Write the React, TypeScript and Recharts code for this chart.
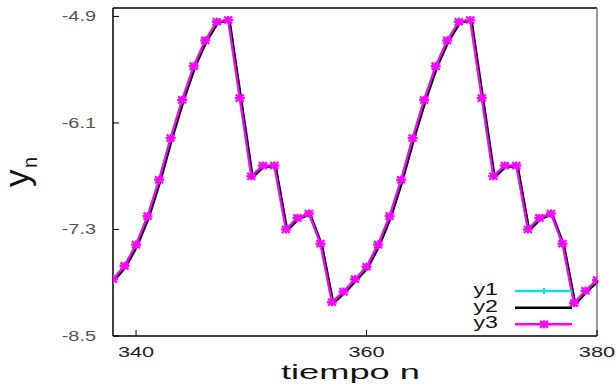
import React from 'react';
import { LineChart, Line, XAxis, YAxis, ReferenceLine, Legend } from 'recharts';

const nValues = [
  338, 339, 340, 341, 342, 343, 344, 345, 346, 347, 348, 349, 350, 351, 352,
  353, 354, 355, 356, 357, 358, 359, 360, 361, 362, 363, 364, 365, 366, 367,
  368, 369, 370, 371, 372, 373, 374, 375, 376, 377, 378, 379, 380,
];

const y1Values = [
  -7.86, -7.71, -7.47, -7.15, -6.74, -6.27, -5.84, -5.46, -5.17, -4.96, -4.94,
  -5.82, -6.7, -6.58, -6.58, -7.3, -7.17, -7.12, -7.46, -8.12, -8.0, -7.86,
  -7.72, -7.47, -7.15, -6.74, -6.27, -5.84, -5.46, -5.17, -4.96, -4.94, -5.82,
  -6.7, -6.58, -6.58, -7.3, -7.17, -7.12, -7.46, -8.13, -7.99, -7.87,
];

const y2Values = [
  -7.86, -7.71, -7.47, -7.15, -6.74, -6.27, -5.84, -5.46, -5.17, -4.96, -4.94,
  -5.82, -6.7, -6.58, -6.58, -7.3, -7.17, -7.12, -7.46, -8.12, -8.0, -7.86,
  -7.72, -7.47, -7.15, -6.74, -6.27, -5.84, -5.46, -5.17, -4.96, -4.94, -5.82,
  -6.7, -6.58, -6.58, -7.3, -7.17, -7.12, -7.46, -8.13, -7.99, -7.87,
];

const y3Values = [
  -7.86, -7.71, -7.47, -7.15, -6.74, -6.27, -5.84, -5.46, -5.17, -4.96, -4.94,
  -5.82, -6.7, -6.58, -6.58, -7.3, -7.17, -7.12, -7.46, -8.12, -8.0, -7.86,
  -7.72, -7.47, -7.15, -6.74, -6.27, -5.84, -5.46, -5.17, -4.96, -4.94, -5.82,
  -6.7, -6.58, -6.58, -7.3, -7.17, -7.12, -7.46, -8.13, -7.99, -7.87,
];

const xTicks = [340, 360, 380];
const yTicks = [-8.5, -7.3, -6.1, -4.9];
const xDomain = [338, 380];
const yDomain = [-8.5, -4.805];
const seriesNames = ['y1', 'y2', 'y3'];
const seriesColors = ['#00e5ee', '#000000', '#ff00ff'];
const xLabel = 'tiempo n';

const data = nValues.map((n, i) => ({
  n,
  y1: y1Values[i],
  y2: y2Values[i],
  y3: y3Values[i],
}));

const FONT = '"Liberation Sans", Arial, sans-serif';

const StarDot = (props: any) => {
  const { cx, cy } = props;
  if (cx == null || cy == null) return <g key={`s-${props.index}`} />;
  return (
    <g key={`s-${props.index}`} stroke="#ff00ff" strokeWidth={2.2}>
      <line x1={cx - 5} x2={cx + 5} y1={cy} y2={cy} />
      <line x1={cx} x2={cx} y1={cy - 4} y2={cy + 4} />
      <line x1={cx - 4} x2={cx + 4} y1={cy - 3.5} y2={cy + 3.5} />
      <line x1={cx - 4} x2={cx + 4} y1={cy + 3.5} y2={cy - 3.5} />
    </g>
  );
};

const PlusDot = (props: any) => {
  const { cx, cy } = props;
  if (cx == null || cy == null) return <g key={`p-${props.index}`} />;
  return (
    <g key={`p-${props.index}`} stroke="#00e5ee" strokeWidth={2}>
      <line x1={cx - 4} x2={cx + 4} y1={cy} y2={cy} />
      <line x1={cx} x2={cx} y1={cy - 4} y2={cy + 4} />
    </g>
  );
};

const YTick = (props: any) => {
  const { x, y, payload } = props;
  return (
    <g>
      <line x1={x + 17} x2={x + 23} y1={y} y2={y} stroke="#000" strokeWidth={1} />
      <text
        transform={`translate(${x} ${y + 5}) scale(1.42 1)`}
        textAnchor="end"
        fontSize={14}
        fontFamily={FONT}
        fill="#555"
      >
        {Number(payload.value).toFixed(1)}
      </text>
    </g>
  );
};

const XTick = (props: any) => {
  const { x, y, payload } = props;
  return (
    <g>
      <line x1={x} x2={x} y1={y - 9} y2={y - 15} stroke="#000" strokeWidth={1} />
      <text
        transform={`translate(${x} ${y + 11.5}) scale(1.45 1)`}
        textAnchor="middle"
        fontSize={15}
        fontFamily={FONT}
        fill="#222"
      >
        {payload.value}
      </text>
    </g>
  );
};

const XLabel = () => (
  <text
    x={281}
    y={379}
    fontSize={21}
    fontFamily={FONT}
    fill="#111"
    textLength={139}
    lengthAdjust="spacingAndGlyphs"
  >
    {xLabel}
  </text>
);

const YLabel = () => (
  <g fill="#111" fontFamily={FONT}>
    <text x={29} y={187} transform="rotate(-90 29 187)" fontSize={35}>
      y
    </text>
    <text x={37} y={168} transform="rotate(-90 37 168)" fontSize={20}>
      n
    </text>
  </g>
);

const LegendContent = () => {
  const rowsY = [13, 29.7, 46.3];
  return (
    <svg width={130} height={56} style={{ display: 'block', overflow: 'visible' }}>
      {seriesNames.map((name, i) => (
        <g key={name}>
          <text
            transform={`translate(38 ${rowsY[i] + 4}) scale(1.45 1)`}
            textAnchor="end"
            fontSize={16}
            fontFamily={FONT}
            fill="#111"
          >
            {name}
          </text>
          <line x1={55} x2={112} y1={rowsY[i]} y2={rowsY[i]} stroke={seriesColors[i]} strokeWidth={2.5} />
          {i === 0 && (
            <line x1={84} x2={84} y1={rowsY[i] - 3} y2={rowsY[i] + 3} stroke={seriesColors[i]} strokeWidth={2} />
          )}
          {i === 2 && <StarDot cx={84} cy={rowsY[i]} index={999} />}
        </g>
      ))}
    </svg>
  );
};

export default function App() {
  return (
    <div style={{ position: 'absolute', left: 0, top: 0, width: 616, height: 389, background: '#fff' }}>
      <style>{`.y2shift path { transform: translate(1.5px, 1px); }`}</style>
      <LineChart
        width={616}
        height={389}
        data={data}
        margin={{ top: 8, right: 19, bottom: 0, left: 0 }}
      >
        <XAxis
          dataKey="n"
          type="number"
          domain={xDomain}
          ticks={xTicks}
          allowDataOverflow
          height={53}
          tickSize={0}
          tickMargin={9}
          tickLine={false}
          tick={<XTick />}
          axisLine={{ stroke: '#000', strokeWidth: 1.5 }}
          label={<XLabel />}
        />
        <YAxis
          type="number"
          domain={yDomain}
          ticks={yTicks}
          allowDataOverflow
          width={113}
          tickSize={0}
          tickMargin={17}
          tickLine={false}
          tick={<YTick />}
          axisLine={{ stroke: '#000', strokeWidth: 1.5 }}
          label={<YLabel />}
        />
        <ReferenceLine y={yDomain[1]} stroke="#000" strokeWidth={1.5} />
        <ReferenceLine x={xDomain[1]} stroke="#777" strokeWidth={1.5} />
        <Line
          dataKey="y1"
          name="y1"
          stroke={seriesColors[0]}
          strokeWidth={2.2}
          dot={(p: any) => <PlusDot key={`pd-${p.index}`} {...p} />}
          isAnimationActive={false}
        />
        <Line
          dataKey="y2"
          name="y2"
          className="y2shift"
          stroke={seriesColors[1]}
          strokeWidth={2.2}
          dot={false}
          isAnimationActive={false}
        />
        <Line
          dataKey="y3"
          name="y3"
          stroke={seriesColors[2]}
          strokeWidth={2.2}
          dot={(p: any) => <StarDot key={`sd-${p.index}`} {...p} />}
          isAnimationActive={false}
        />
        <Legend
          layout="vertical"
          align="center"
          verticalAlign="middle"
          content={<LegendContent />}
          wrapperStyle={{ position: 'absolute', left: 460, top: 278, width: 130, height: 56 }}
        />
      </LineChart>
    </div>
  );
}
